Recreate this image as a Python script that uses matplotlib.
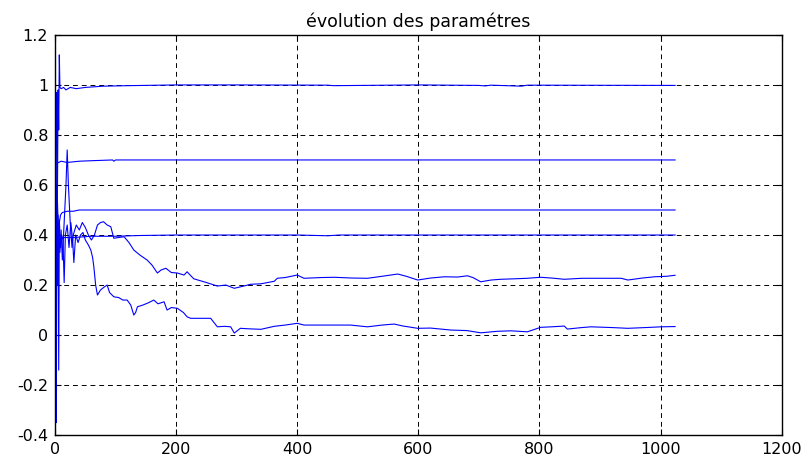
import numpy as np
import matplotlib.pyplot as plt

plt.rcParams['font.family'] = ['DejaVu Sans']

# Parameter traces (iteration, value)
k_a = [1, 2, 3, 4, 5, 6, 7, 8, 10, 14, 18, 25, 35, 50, 80, 120, 200, 300, 450, 460, 600, 700, 710, 720, 770, 780, 1024]
v_a = [0.2, 0.96, 0.97, 0.6, 0.98, 0.82, 1.12, 0.99, 0.985, 0.99, 0.98, 0.99, 0.985, 0.99, 0.995, 0.997, 1.0, 1.0, 0.999, 0.997,
       1.0, 0.998, 0.996, 0.999, 0.995, 0.999, 0.998]

k_b = [1, 2, 3, 4, 6, 10, 20, 40, 60, 95, 97, 100, 200, 1024]
v_b = [0.8, -0.35, 0.5, 0.69, 0.69, 0.695, 0.69, 0.695, 0.697, 0.7, 0.695, 0.7, 0.7, 0.7]

k_c = [1, 3, 5, 6, 7, 9, 12, 20, 30, 40, 200, 1024]
v_c = [0.6, 0.3, 0.48, -0.14, 0.45, 0.48, 0.49, 0.495, 0.495, 0.5, 0.5, 0.5]

k_d = [1, 2, 3, 4, 5, 8, 15, 30, 60, 100, 140, 200, 400, 450, 470, 600, 1024]
v_d = [0.5, 0.1, 0.6, 0.2, 0.39, 0.385, 0.39, 0.39, 0.395, 0.395, 0.398, 0.4, 0.4, 0.397, 0.4, 0.4, 0.4]

k_e = [1, 2, 3, 5, 8, 10, 12, 15, 18, 20, 22, 25, 28, 30, 35, 40, 45, 50, 55, 60, 65, 70, 75, 80, 86, 92, 97, 105,
       114, 122, 130, 140, 152, 160, 169, 175, 183, 192, 202, 213, 218, 229, 250, 268, 282, 296, 310, 323, 340, 362,
       367, 380, 400, 411, 440, 461, 490, 516, 540, 566, 580, 599, 620, 643, 665, 681, 690, 703, 720, 736, 760, 780,
       802, 820, 841, 870, 902, 935, 946, 970, 990, 1010, 1024]
v_e = [0.7, 0.3, 0.6, 0.45, 0.33, 0.42, 0.3, 0.45, 0.6, 0.74, 0.6, 0.45, 0.35, 0.4, 0.44, 0.42, 0.45, 0.43, 0.40, 0.38,
       0.40, 0.44, 0.45, 0.453, 0.44, 0.433, 0.387, 0.39, 0.393, 0.37, 0.34, 0.32, 0.30, 0.28, 0.248, 0.26, 0.267,
       0.25, 0.248, 0.24, 0.253, 0.225, 0.21, 0.196, 0.20, 0.187, 0.195, 0.203, 0.205, 0.215, 0.227, 0.23, 0.24,
       0.227, 0.23, 0.231, 0.228, 0.227, 0.235, 0.244, 0.235, 0.22, 0.228, 0.233, 0.232, 0.237, 0.23, 0.213, 0.22,
       0.223, 0.225, 0.227, 0.231, 0.228, 0.223, 0.227, 0.227, 0.227, 0.22, 0.228, 0.233, 0.235, 0.239]

k_f = [1, 2, 3, 5, 7, 9, 11, 13, 15, 17, 20, 23, 26, 29, 31, 34, 38, 42, 46, 50, 55, 59, 62, 64, 67, 70, 75, 80, 86,
       90, 97, 105, 112, 119, 125, 130, 133, 136, 145, 155, 163, 170, 180, 185, 192, 202, 212, 218, 224, 240, 257,
       268, 280, 290, 296, 306, 320, 340, 362, 380, 400, 411, 450, 488, 516, 540, 560, 575, 599, 620, 654, 680, 703,
       730, 753, 780, 802, 820, 841, 846, 870, 885, 920, 946, 975, 1001, 1024]
v_f = [0.4, 0.2, 0.45, 0.3, 0.46, 0.35, 0.4, 0.38, 0.21, 0.4, 0.44, 0.35, 0.45, 0.38, 0.29, 0.4, 0.37, 0.4, 0.41,
       0.38, 0.36, 0.34, 0.31, 0.273, 0.2, 0.16, 0.18, 0.19, 0.20, 0.17, 0.153, 0.15, 0.14, 0.14, 0.12, 0.08, 0.09,
       0.113, 0.12, 0.13, 0.14, 0.125, 0.133, 0.10, 0.11, 0.107, 0.09, 0.073, 0.067, 0.067, 0.067, 0.033, 0.035,
       0.033, 0.008, 0.027, 0.025, 0.023, 0.035, 0.04, 0.047, 0.04, 0.04, 0.04, 0.033, 0.04, 0.044, 0.036, 0.027,
       0.028, 0.02, 0.018, 0.009, 0.015, 0.017, 0.013, 0.031, 0.033, 0.036, 0.024, 0.03, 0.033, 0.03, 0.027, 0.03,
       0.033, 0.034]

series = [(k_a, v_a), (k_b, v_b), (k_c, v_c), (k_d, v_d), (k_e, v_e), (k_f, v_f)]

fig = plt.figure(figsize=(8.1, 4.59), dpi=100)
ax = fig.add_axes([0.068, 0.052, 0.897, 0.872])

for k, v in series:
    ax.plot(k, v, color='blue', linewidth=0.8)

ax.set_xlim(0, 1200)
ax.set_ylim(-0.4, 1.2)
ax.set_xticks(np.arange(0, 1201, 200))
ax.set_yticks(np.round(np.arange(-0.4, 1.21, 0.2), 1))
ax.set_yticklabels(['-0.4', '-0.2', '0', '0.2', '0.4', '0.6', '0.8', '1', '1.2'])
ax.grid(True, color='black', linestyle=(0, (5, 4)), linewidth=0.7)
ax.tick_params(direction='in', top=True, right=True, labelsize=11.5, length=4, pad=5)
for s in ax.spines.values():
    s.set_linewidth(1.0)
ax.set_title('évolution des paramétres', fontsize=12.5, pad=6)

fig.savefig('out.png', dpi=100)
